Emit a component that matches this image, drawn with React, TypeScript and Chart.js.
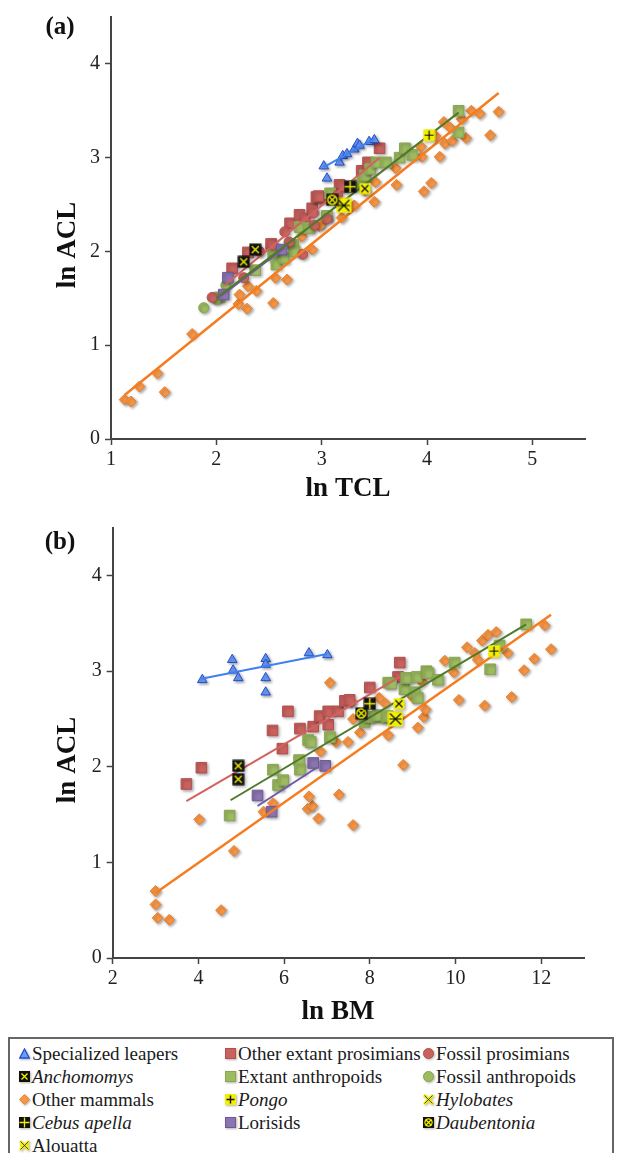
import React, { useEffect, useRef } from 'react';
import Chart from 'chart.js/auto';

type P = [number, number];

// ---------------- Panel (a): ln ACL vs ln TCL ----------------
const aXTicks = [1, 2, 3, 4, 5];
const aYTicks = [0, 1, 2, 3, 4];
const aXRange: P = [1, 5.5];
const aYRange: P = [0, 4.5];

const aLeapers: P[] = [[3.02, 2.91], [3.05, 2.78], [3.17, 2.95], [3.20, 3.02], [3.24, 3.04], [3.31, 3.09], [3.34, 3.15], [3.36, 3.13], [3.45, 3.17], [3.50, 3.19]];
const aOtherProsimians: P[] = [[2.15, 1.82], [2.30, 1.99], [2.52, 2.08], [2.70, 2.30], [2.79, 2.39], [2.84, 2.35], [2.91, 2.46], [2.95, 2.58], [3.00, 2.57], [2.97, 2.59], [3.17, 2.71], [3.20, 2.69], [3.38, 2.86], [3.44, 2.95], [3.55, 3.10]];
const aFossilProsimians: P[] = [[1.96, 1.51], [2.26, 1.72], [2.41, 2.00], [2.53, 2.07], [2.65, 2.21], [2.69, 2.10], [2.82, 1.97], [2.92, 2.41], [2.93, 2.28], [3.05, 2.35], [3.15, 2.60]];
const aExtantAnthropoids: P[] = [[2.03, 1.51], [2.37, 1.80], [2.54, 1.96], [2.57, 1.86], [2.64, 1.93], [2.73, 2.07], [2.74, 2.00], [2.79, 2.26], [2.88, 2.25], [3.05, 2.38], [3.08, 2.62], [3.35, 2.71], [3.39, 2.75], [3.41, 2.81], [3.46, 2.88], [3.52, 2.95], [3.61, 2.95], [3.74, 3.00], [3.79, 3.10], [3.86, 3.03], [4.30, 3.50], [4.30, 3.27]];
const aFossilAnthropoids: P[] = [[1.88, 1.40], [2.00, 1.49], [2.09, 1.64], [2.55, 2.00]];
const aLorisids: P[] = [[2.07, 1.54], [2.11, 1.72], [2.62, 2.02]];
const aOtherMammals: P[] = [[1.13, 0.42], [1.19, 0.40], [1.27, 0.56], [1.44, 0.70], [1.51, 0.50], [1.77, 1.12], [2.21, 1.44], [2.22, 1.54], [2.29, 1.39], [2.30, 1.63], [2.38, 1.58], [2.54, 1.45], [2.56, 1.72], [2.67, 1.70], [2.81, 2.16], [2.91, 2.02], [3.00, 2.30], [2.98, 2.27], [3.19, 2.36], [3.31, 2.49], [3.41, 2.65], [3.50, 2.53], [3.51, 2.74], [3.70, 2.89], [3.71, 2.71], [3.94, 3.12], [3.95, 3.01], [3.97, 2.64], [4.04, 2.73], [4.08, 3.23], [4.12, 3.01], [4.16, 3.38], [4.17, 3.15], [4.22, 3.32], [4.24, 3.18], [4.33, 3.41], [4.37, 3.21], [4.42, 3.50], [4.50, 3.47], [4.60, 3.24], [4.68, 3.49]];
const aAnchomomys: P[] = [[2.26, 1.89], [2.37, 2.02]];
const aCebus: P[] = [[3.27, 2.69]];
const aDaubentonia: P[] = [[3.10, 2.55]];
const aPongo: P[] = [[4.02, 3.24]];
const aHylobates: P[] = [[3.41, 2.67]];
const aAlouatta: P[] = [[3.21, 2.49]];

const aFitLeapers: P[] = [[3.02, 2.90], [3.50, 3.20]];
const aFitProsimians: P[] = [[2.08, 1.64], [3.55, 3.00]];
const aFitAnthropoids: P[] = [[2.00, 1.50], [4.30, 3.48]];
const aFitLorisids: P[] = [[2.05, 1.53], [2.65, 2.04]];
const aFitMammals: P[] = [[1.13, 0.47], [4.68, 3.69]];

// ---------------- Panel (b): ln ACL vs ln BM ----------------
const bXTicks = [2, 4, 6, 8, 10, 12];
const bYTicks = [0, 1, 2, 3, 4];
const bXRange: P = [2, 13];
const bYRange: P = [0, 4.5];

const bLeapers: P[] = [[4.09, 2.91], [4.79, 3.12], [4.81, 3.01], [4.93, 2.93], [5.57, 3.13], [5.57, 3.07], [5.57, 2.93], [5.57, 2.78], [6.58, 3.19], [7.01, 3.17]];
const bOtherProsimians: P[] = [[3.72, 1.82], [4.07, 1.99], [5.73, 2.38], [5.96, 2.19], [6.09, 2.58], [6.37, 2.40], [6.68, 2.42], [6.83, 2.53], [7.03, 2.44], [7.03, 2.58], [7.26, 2.58], [7.42, 2.69], [7.53, 2.70], [8.00, 2.83], [8.66, 2.94], [8.70, 3.09]];
const bExtantAnthropoids: P[] = [[4.73, 1.49], [5.74, 1.97], [5.86, 1.81], [5.98, 1.86], [6.35, 2.07], [6.37, 1.97], [6.56, 2.28], [6.62, 2.26], [7.07, 2.31], [7.88, 2.47], [7.96, 2.52], [8.15, 2.52], [8.19, 2.54], [8.39, 2.51], [8.42, 2.53], [8.43, 2.88], [8.50, 2.87], [8.81, 2.81], [8.85, 2.93], [9.05, 2.78], [9.10, 2.94], [9.12, 2.72], [9.32, 3.00], [9.36, 2.98], [9.59, 2.91], [9.98, 3.09], [10.81, 3.02], [11.03, 3.27], [11.65, 3.49]];
const bLorisids: P[] = [[5.38, 1.70], [5.71, 1.53], [6.68, 2.04], [6.96, 2.01]];
const bOtherMammals: P[] = [[3.00, 0.70], [3.00, 0.56], [3.05, 0.42], [3.32, 0.40], [4.53, 0.50], [4.02, 1.45], [4.83, 1.12], [5.52, 1.53], [5.74, 1.62], [6.55, 1.56], [6.66, 1.59], [6.58, 1.69], [6.80, 1.46], [7.28, 1.71], [7.61, 1.39], [6.85, 2.16], [7.07, 2.88], [7.21, 2.26], [7.49, 2.26], [7.57, 2.68], [7.61, 2.50], [7.77, 2.36], [8.22, 2.72], [8.37, 2.66], [8.43, 2.33], [8.78, 2.02], [9.00, 2.73], [9.12, 2.41], [9.26, 2.52], [9.30, 2.60], [9.22, 2.89], [9.75, 3.11], [9.96, 2.99], [10.08, 2.70], [10.27, 3.25], [10.45, 3.19], [10.52, 3.12], [10.62, 3.32], [10.68, 2.64], [10.76, 3.38], [10.95, 3.41], [11.22, 3.19], [11.31, 2.73], [11.60, 3.01], [11.84, 3.13], [12.08, 3.48], [12.23, 3.23]];
const bAnchomomys: P[] = [[4.93, 2.01], [4.93, 1.87]];
const bCebus: P[] = [[8.00, 2.66]];
const bDaubentonia: P[] = [[7.80, 2.56]];
const bPongo: P[] = [[10.90, 3.21]];
const bHylobates: P[] = [[8.68, 2.66]];
const bAlouatta: P[] = [[8.60, 2.50]];

const bFitLeapers: P[] = [[4.07, 2.92], [7.00, 3.18]];
const bFitProsimians: P[] = [[3.72, 1.64], [8.70, 2.94]];
const bFitAnthropoids: P[] = [[4.75, 1.65], [11.65, 3.49]];
const bFitLorisids: P[] = [[5.38, 1.59], [6.76, 1.99]];
const bFitMammals: P[] = [[3.00, 0.68], [12.23, 3.59]];

// ---------------- styling ----------------
const SERIF = '"Liberation Serif", "Times New Roman", serif';
const C = {
  leaperFill: '#6d9cf3', leaperLine: '#1f4fd6', leaperFit: '#3f80f0',
  red: '#c9625f', redEdge: '#b3504d', redFit: '#d3625f',
  green: '#9dbb61', greenEdge: '#88a64f', greenFit: '#4f7a2a',
  orange: '#f79646', orangeEdge: '#e9822f', orangeFit: '#f57c1f',
  purple: '#8b74b0', purpleEdge: '#6f5898', purpleFit: '#6e58a8',
  axis: '#444',
};

type Kind = 'anchomomys' | 'cebus' | 'daubentonia' | 'pongo' | 'hylobates' | 'alouatta';

function drawSpecial(g: CanvasRenderingContext2D, kind: Kind, s: number) {
  const y = '#f2f000';
  g.lineCap = 'butt';
  if (kind === 'anchomomys' || kind === 'cebus' || kind === 'daubentonia') {
    g.fillStyle = '#111';
    g.fillRect(0.5, 0.5, s - 1, s - 1);
    g.strokeStyle = y;
    g.lineWidth = 1.4;
    g.beginPath();
    if (kind === 'cebus') {
      g.moveTo(s / 2, 1); g.lineTo(s / 2, s - 1);
      g.moveTo(1, s / 2); g.lineTo(s - 1, s / 2);
    } else {
      g.moveTo(3, 3); g.lineTo(s - 3, s - 3);
      g.moveTo(s - 3, 3); g.lineTo(3, s - 3);
    }
    g.stroke();
    if (kind === 'daubentonia') {
      g.beginPath();
      g.arc(s / 2, s / 2, s / 2 - 2, 0, Math.PI * 2);
      g.stroke();
    }
  } else {
    g.fillStyle = y;
    g.fillRect(0.5, 0.5, s - 1, s - 1);
    g.strokeStyle = '#111';
    g.lineWidth = 1.2;
    g.beginPath();
    if (kind === 'pongo') {
      g.moveTo(s / 2, 2); g.lineTo(s / 2, s - 2);
      g.moveTo(2, s / 2); g.lineTo(s - 2, s / 2);
    } else {
      g.moveTo(2.5, 2.5); g.lineTo(s - 2.5, s - 2.5);
      g.moveTo(s - 2.5, 2.5); g.lineTo(2.5, s - 2.5);
      if (kind === 'alouatta') { g.moveTo(2, s / 2); g.lineTo(s - 2, s / 2); }
    }
    g.stroke();
  }
}

function makeMarker(kind: Kind): HTMLCanvasElement {
  const s = kind === 'alouatta' ? 16 : kind === 'hylobates' ? 12 : 13;
  const c = document.createElement('canvas');
  c.width = s; c.height = s;
  drawSpecial(c.getContext('2d')!, kind, s);
  return c;
}

const pts = (a: P[]) => a.map(([x, y]) => ({ x, y }));

function scatter(label: string, data: P[], style: any, bg: string, edge: string, r: number, order = 2) {
  return {
    label, data: pts(data), pointStyle: style, pointRadius: r, pointHoverRadius: r,
    backgroundColor: bg, borderColor: edge, pointBorderWidth: 1, showLine: false, order,
  };
}
function fit(label: string, data: P[], color: string, w = 2) {
  return {
    label, data: pts(data), showLine: true, borderColor: color, borderWidth: w,
    pointRadius: 0, pointHoverRadius: 0, backgroundColor: color, fill: false, order: 1,
  };
}
function special(label: string, data: P[], kind: Kind) {
  return {
    label, data: pts(data), pointStyle: makeMarker(kind), pointRadius: 6, pointHoverRadius: 6,
    showLine: false, order: 0,
  };
}

const shadowPlugin = {
  id: 'markerShadow',
  beforeDatasetDraw(chart: any, args: any) {
    const ds = chart.data.datasets[args.index];
    if (ds.showLine) return;
    const ctx = chart.ctx;
    ctx.save();
    ctx.shadowColor = 'rgba(0,0,0,0.35)';
    ctx.shadowBlur = 3;
    ctx.shadowOffsetX = 1.5;
    ctx.shadowOffsetY = 1.5;
  },
  afterDatasetDraw(chart: any, args: any) {
    const ds = chart.data.datasets[args.index];
    if (ds.showLine) return;
    chart.ctx.restore();
  },
};

const textPlugin = {
  id: 'panelText',
  afterDraw(chart: any, _a: any, opts: any) {
    const ctx = chart.ctx;
    for (const t of opts.items || []) {
      ctx.save();
      ctx.font = t.font;
      ctx.fillStyle = '#111';
      ctx.textAlign = 'center';
      ctx.textBaseline = 'middle';
      ctx.translate(t.x, t.y);
      if (t.rot) ctx.rotate(t.rot);
      ctx.fillText(t.text, 0, 0);
      ctx.restore();
    }
  },
};

interface PanelDef {
  datasets: any[];
  xRange: P; yRange: P; xTicks: number[]; yTicks: number[];
  yAxisWidth: number; xAxisHeight: number; padTop: number; padRight: number;
  texts: any[];
}

function axis(range: P, ticks: number[], isX: boolean, size: number) {
  return {
    type: 'linear',
    min: range[0], max: range[1],
    afterBuildTicks: (s: any) => { s.ticks = ticks.map((v) => ({ value: v })); },
    afterFit: (s: any) => { if (isX) s.height = size; else s.width = size; },
    ticks: {
      color: '#222', font: { family: SERIF, size: 20 }, padding: isX ? 3 : 5,
      callback: (v: any) => String(v),
    },
    grid: { drawOnChartArea: false, drawTicks: true, tickLength: 6, tickColor: C.axis, tickWidth: 1.5 },
    border: { display: true, color: C.axis, width: 2 },
    title: { display: false },
  };
}

function buildConfig(p: PanelDef): any {
  return {
    type: 'scatter',
    data: { datasets: p.datasets },
    options: {
      responsive: false,
      animation: false,
      events: [],
      layout: { padding: { top: p.padTop, right: p.padRight, left: 0, bottom: 0 } },
      plugins: { legend: { display: false }, tooltip: { enabled: false }, panelText: { items: p.texts } },
      scales: {
        x: axis(p.xRange, p.xTicks, true, p.xAxisHeight),
        y: axis(p.yRange, p.yTicks, false, p.yAxisWidth),
      },
    },
    plugins: [shadowPlugin, textPlugin],
  };
}

function makeDatasets(set: {
  leapers: P[]; otherPros: P[]; fossilPros?: P[]; extAnth: P[]; fossilAnth?: P[]; lorisids: P[]; mammals: P[];
  anch: P[]; cebus: P[]; daub: P[]; pongo: P[]; hylo: P[]; alou: P[];
  fL: P[]; fP: P[]; fA: P[]; fLo: P[]; fM: P[];
}) {
  const ds: any[] = [
    scatter('Other mammals', set.mammals, 'rectRot', C.orange, C.orangeEdge, 5.5, 5),
    scatter('Extant anthropoids', set.extAnth, 'rect', C.green, C.greenEdge, 7.5, 4),
    scatter('Other extant prosimians', set.otherPros, 'rect', C.red, C.redEdge, 7.5, 4),
    scatter('Lorisids', set.lorisids, 'rect', C.purple, C.purpleEdge, 7.5, 3),
    scatter('Specialized leapers', set.leapers, 'triangle', C.leaperFill, C.leaperLine, 5.5, 3),
  ];
  if (set.fossilPros) ds.push(scatter('Fossil prosimians', set.fossilPros, 'circle', C.red, C.redEdge, 5, 3));
  if (set.fossilAnth) ds.push(scatter('Fossil anthropoids', set.fossilAnth, 'circle', C.green, C.greenEdge, 5, 3));
  ds.push(
    fit('fit mammals', set.fM, C.orangeFit, 2.5),
    fit('fit anthropoids', set.fA, C.greenFit, 2),
    fit('fit prosimians', set.fP, C.redFit, 2),
    fit('fit lorisids', set.fLo, C.purpleFit, 2),
    fit('fit leapers', set.fL, C.leaperFit, 2),
    special('Anchomomys', set.anch, 'anchomomys'),
    special('Cebus apella', set.cebus, 'cebus'),
    special('Daubentonia', set.daub, 'daubentonia'),
    special('Pongo', set.pongo, 'pongo'),
    special('Hylobates', set.hylo, 'hylobates'),
    special('Alouatta', set.alou, 'alouatta'),
  );
  return ds;
}

function ChartPanel({ which, top, height }: { which: 'a' | 'b'; top: number; height: number }) {
  const ref = useRef<HTMLCanvasElement>(null);
  useEffect(() => {
    const bold = `bold 27px ${SERIF}`;
    let def: PanelDef;
    if (which === 'a') {
      def = {
        datasets: makeDatasets({
          leapers: aLeapers, otherPros: aOtherProsimians, fossilPros: aFossilProsimians, extAnth: aExtantAnthropoids,
          fossilAnth: aFossilAnthropoids, lorisids: aLorisids, mammals: aOtherMammals,
          anch: aAnchomomys, cebus: aCebus, daub: aDaubentonia, pongo: aPongo, hylo: aHylobates, alou: aAlouatta,
          fL: aFitLeapers, fP: aFitProsimians, fA: aFitAnthropoids, fLo: aFitLorisids, fM: aFitMammals,
        }),
        xRange: aXRange, yRange: aYRange, xTicks: aXTicks, yTicks: aYTicks,
        yAxisWidth: 111, xAxisHeight: height - 439, padTop: 15, padRight: 34,
        texts: [
          { text: '(a)', x: 60, y: 28, font: `bold 25px ${SERIF}` },
          { text: 'ln ACL', x: 68, y: 245, rot: -Math.PI / 2, font: bold },
          { text: 'ln TCL', x: 348, y: 489, font: bold },
        ],
      };
    } else {
      def = {
        datasets: makeDatasets({
          leapers: bLeapers, otherPros: bOtherProsimians, extAnth: bExtantAnthropoids, lorisids: bLorisids, mammals: bOtherMammals,
          anch: bAnchomomys, cebus: bCebus, daub: bDaubentonia, pongo: bPongo, hylo: bHylobates, alou: bAlouatta,
          fL: bFitLeapers, fP: bFitProsimians, fA: bFitAnthropoids, fLo: bFitLorisids, fM: bFitMammals,
        }),
        xRange: bXRange, yRange: bYRange, xTicks: bXTicks, yTicks: bYTicks,
        yAxisWidth: 112.7, xAxisHeight: height - 448, padTop: 17.8, padRight: 35,
        texts: [
          { text: '(b)', x: 60, y: 33, font: `bold 25px ${SERIF}` },
          { text: 'ln ACL', x: 68, y: 250, rot: -Math.PI / 2, font: bold },
          { text: 'ln BM', x: 338, y: 502, font: bold },
        ],
      };
    }
    const chart = new Chart(ref.current!, buildConfig(def));
    return () => chart.destroy();
  }, [which, height]);
  return (
    <div style={{ position: 'absolute', left: 0, top, width: 619, height }}>
      <canvas ref={ref} width={619} height={height} style={{ display: 'block' }} />
    </div>
  );
}

// ---------------- legend ----------------
const legendRows: { label: string; italic?: boolean; icon: string }[][] = [
  [{ label: 'Specialized leapers', icon: 'tri' }, { label: 'Other extant prosimians', icon: 'sqRed' }, { label: 'Fossil prosimians', icon: 'cirRed' }],
  [{ label: 'Anchomomys', italic: true, icon: 'anchomomys' }, { label: 'Extant anthropoids', icon: 'sqGreen' }, { label: 'Fossil anthropoids', icon: 'cirGreen' }],
  [{ label: 'Other mammals', icon: 'dia' }, { label: 'Pongo', italic: true, icon: 'pongoIcon' }, { label: 'Hylobates', italic: true, icon: 'hyloIcon' }],
  [{ label: 'Cebus apella', italic: true, icon: 'cebus' }, { label: 'Lorisids', icon: 'sqPurple' }, { label: 'Daubentonia', italic: true, icon: 'daubentonia' }],
  [{ label: 'Alouatta', icon: 'alouIcon' }],
];

function Icon({ kind }: { kind: string }) {
  const box = { width: 11, height: 11, display: 'inline-block', verticalAlign: 'middle', filter: 'drop-shadow(1px 1px 1px rgba(0,0,0,0.3))' } as any;
  switch (kind) {
    case 'tri':
      return <svg style={box} viewBox="0 0 11 11"><polygon points="5.5,1 10.3,10 0.7,10" fill={C.leaperFill} stroke={C.leaperLine} strokeWidth="1.3" /></svg>;
    case 'sqRed':
      return <svg style={box} viewBox="0 0 11 11"><rect x="0.5" y="0.5" width="10" height="10" fill={C.red} stroke={C.redEdge} /></svg>;
    case 'sqGreen':
      return <svg style={box} viewBox="0 0 11 11"><rect x="0.5" y="0.5" width="10" height="10" fill={C.green} stroke={C.greenEdge} /></svg>;
    case 'sqPurple':
      return <svg style={box} viewBox="0 0 11 11"><rect x="0.5" y="0.5" width="10" height="10" fill={C.purple} stroke={C.purpleEdge} /></svg>;
    case 'cirRed':
      return <svg style={box} viewBox="0 0 11 11"><circle cx="5.5" cy="5.5" r="5" fill={C.red} stroke={C.redEdge} /></svg>;
    case 'cirGreen':
      return <svg style={box} viewBox="0 0 11 11"><circle cx="5.5" cy="5.5" r="5" fill={C.green} stroke={C.greenEdge} /></svg>;
    case 'dia':
      return <svg style={box} viewBox="0 0 11 11"><polygon points="5.5,0.5 10.5,5.5 5.5,10.5 0.5,5.5" fill={C.orange} stroke={C.orangeEdge} /></svg>;
    case 'anchomomys':
    case 'cebus':
    case 'daubentonia':
      return (
        <svg style={box} viewBox="0 0 11 11">
          <rect x="0" y="0" width="11" height="11" fill="#111" />
          {kind === 'cebus'
            ? <path d="M5.5 0.5V10.5M0.5 5.5H10.5" stroke="#f2f000" strokeWidth="1.3" />
            : <path d="M2.5 2.5L8.5 8.5M8.5 2.5L2.5 8.5" stroke="#f2f000" strokeWidth="1.4" />}
          {kind === 'daubentonia' && <circle cx="5.5" cy="5.5" r="3.6" fill="none" stroke="#f2f000" strokeWidth="1.2" />}
        </svg>
      );
    case 'pongoIcon':
      return <svg style={box} viewBox="0 0 11 11"><rect x="0" y="0" width="11" height="11" fill="#f2f000" /><path d="M5.5 1.5V9.5M1.5 5.5H9.5" stroke="#111" strokeWidth="1.4" /></svg>;
    case 'hyloIcon':
      return <svg style={box} viewBox="0 0 11 11"><path d="M1 1L10 10M10 1L1 10" stroke="#f2f000" strokeWidth="3" /><path d="M1.5 1.5L9.5 9.5M9.5 1.5L1.5 9.5" stroke="#222" strokeWidth="0.8" /></svg>;
    case 'alouIcon':
      return <svg style={box} viewBox="0 0 11 11"><path d="M1 1L10 10M10 1L1 10M1 5.5H10" stroke="#f2f000" strokeWidth="2.6" /><path d="M1.5 1.5L9.5 9.5M9.5 1.5L1.5 9.5" stroke="#222" strokeWidth="0.8" /></svg>;
    default:
      return null;
  }
}

const colLeft = [9, 215, 413];

function Legend() {
  return (
    <div style={{
      position: 'absolute', left: 8, top: 1037, width: 602, height: 130,
      border: '2px solid #666', background: '#fff', fontFamily: SERIF, fontSize: 19, color: '#1a1a1a',
    }}>
      {legendRows.map((row, ri) => row.map((item, ci) => (
        <div key={`${ri}-${ci}`} style={{
          position: 'absolute', left: colLeft[ci], top: 1 + ri * 23, height: 23, lineHeight: '23px', whiteSpace: 'nowrap',
        }}>
          <Icon kind={item.icon} />
          <span style={{ marginLeft: 2, fontStyle: item.italic ? 'italic' : 'normal', verticalAlign: 'middle' }}>{item.label}</span>
        </div>
      )))}
    </div>
  );
}

export default function App() {
  return (
    <div style={{ position: 'absolute', left: 0, top: 0, width: 619, height: 1153, overflow: 'hidden', background: '#fff' }}>
      <ChartPanel which="a" top={0} height={510} />
      <ChartPanel which="b" top={510} height={520} />
      <Legend />
    </div>
  );
}
